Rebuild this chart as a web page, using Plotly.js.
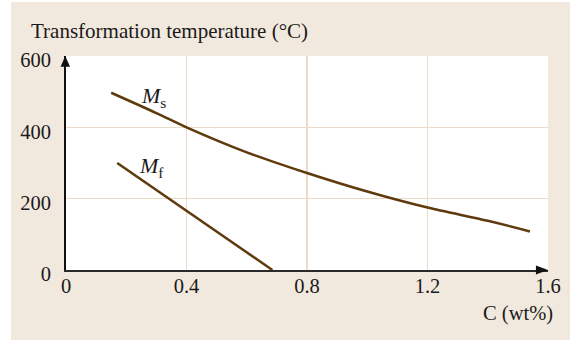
<!DOCTYPE html>
<html>
<head>
<meta charset="utf-8">
<script src="https://cdn.plot.ly/plotly-3.0.1.min.js"></script>
<style>
  html, body { margin: 0; padding: 0; background: #ffffff; }
  #chart { position: absolute; left: 11px; top: 2px; width: 559px; height: 338px; }
</style>
</head>
<body>
<div id="chart"></div>
<script>
// Martensite start / finish temperatures versus carbon content
const msCarbon = [0.15, 0.3, 0.4, 0.6, 0.8, 1.0, 1.2, 1.4, 1.54];
const msTemp   = [497, 440, 400, 330, 272, 220, 175, 138, 108];
const mfCarbon = [0.17, 0.685];
const mfTemp   = [300, 0];

const xTicks = [0, 0.4, 0.8, 1.2, 1.6];
const xTickLabels = ['0', '0.4', '0.8', '1.2', '1.6'];
const yTicks = [0, 200, 400, 600];
const yTickLabels = ['0', '200', '400', '600'];

const lineColor = '#5e3a0c';
const gridColor = '#ecdcc7';
const serif = '"Liberation Serif", "Times New Roman", serif';
const tickFont = { family: serif, size: 20.5, color: '#1a1a1a' };

const traces = [
  { x: msCarbon, y: msTemp, mode: 'lines', line: { color: lineColor, width: 2.5, shape: 'spline', smoothing: 0.8 }, hoverinfo: 'skip' },
  { x: mfCarbon, y: mfTemp, mode: 'lines', line: { color: lineColor, width: 2.5 }, hoverinfo: 'skip' }
];

const layout = {
  width: 559, height: 338,
  margin: { l: 55, r: 22, t: 54, b: 70 },
  paper_bgcolor: '#f2e9de',
  plot_bgcolor: '#ffffff',
  showlegend: false,
  font: { family: serif, size: 20, color: '#1a1a1a' },
  xaxis: {
    range: [0, 1.6], tickvals: xTicks, ticktext: xTickLabels, tickfont: tickFont,
    showgrid: true, gridcolor: gridColor, gridwidth: 1.5,
    zeroline: false, showline: true, linecolor: '#2a2a2a', linewidth: 2,
    ticks: '', ticklabelstandoff: -4, fixedrange: true
  },
  yaxis: {
    range: [0, 600], tickvals: yTicks, ticktext: yTickLabels, tickfont: tickFont,
    showgrid: true, gridcolor: gridColor, gridwidth: 1.5,
    zeroline: false, showline: true, linecolor: '#111111', linewidth: 2,
    ticks: '', ticklabelstandoff: 9, ticklabelshift: 4, fixedrange: true
  },
  shapes: [
    // arrowheads on both axes
    { type: 'path', xref: 'paper', yref: 'paper', path: 'M 1.0 0 L 0.975 0.021 L 0.975 -0.021 Z', fillcolor: '#111111', line: { width: 0 } },
    { type: 'path', xref: 'paper', yref: 'paper', path: 'M -0.0015 1.0 L -0.0113 0.95 L 0.0083 0.95 Z', fillcolor: '#111111', line: { width: 0 } }
  ],
  annotations: [
    { text: 'Transformation temperature (°C)', xref: 'paper', yref: 'paper', x: -0.0768, y: 1.115, xanchor: 'left', yanchor: 'middle', showarrow: false, font: { family: serif, size: 21, color: '#1a1a1a' } },
    { text: 'C (wt%)', xref: 'paper', yref: 'paper', x: 1.0145, y: -0.201, xanchor: 'right', yanchor: 'middle', showarrow: false, font: { family: serif, size: 20.5, color: '#1a1a1a' } },
    { text: '<i>M</i><sub>s</sub>', xref: 'x', yref: 'y', x: 0.29, y: 485, showarrow: false, font: { family: serif, size: 22, color: '#1a1a1a' } },
    { text: '<i>M</i><sub>f</sub>', xref: 'x', yref: 'y', x: 0.284, y: 289, showarrow: false, font: { family: serif, size: 22, color: '#1a1a1a' } }
  ]
};

Plotly.newPlot('chart', traces, layout, { displayModeBar: false, staticPlot: true });
</script>
</body>
</html>
